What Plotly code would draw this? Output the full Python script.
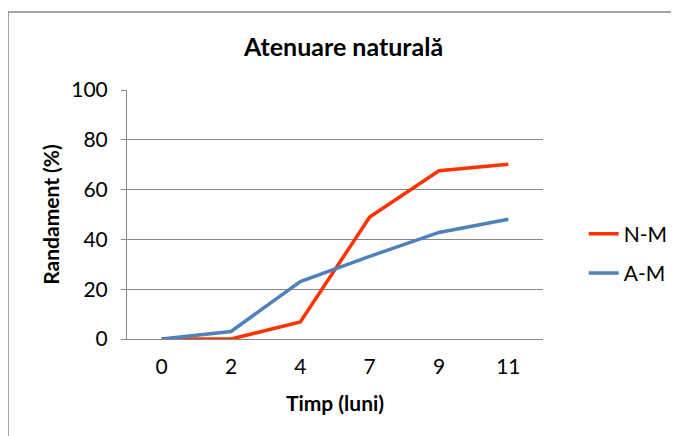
import plotly.graph_objects as go

# Date
timp = ["0", "2", "4", "7", "9", "11"]
nm_values = [0, 0, 6.8, 49, 67.6, 70.2]
am_values = [0, 3, 23.1, 33.2, 42.8, 48.1]

fig = go.Figure()
fig.add_trace(go.Scatter(x=timp, y=nm_values, name="N-M", mode="lines", legendgroup="nm",
                         line=dict(color="#FF3300", width=3.5)))
fig.add_trace(go.Scatter(x=timp, y=am_values, name="A-M", mode="lines", legendgroup="am",
                         line=dict(color="#4F81BD", width=3.5)))

font_family = "Lato, Open Sans, sans-serif"

# pagina are o margine de 8px in jurul figurii
fig.update_layout(
    width=671, height=428,
    margin=dict(l=119, r=136, t=82, b=97),
    paper_bgcolor="white", plot_bgcolor="white",
    font=dict(family=font_family, size=21, color="black"),
    title=dict(text="<b>Atenuare naturală</b>", x=0.5, xanchor="center",
               y=0.909, yanchor="middle", font=dict(size=25)),
    showlegend=True,
    legend=dict(xref="container", yref="paper", x=0.858, y=0.343,
                xanchor="left", yanchor="middle",
                font=dict(size=21), tracegroupgap=9,
                bgcolor="rgba(0,0,0,0)"),
)

fig.update_xaxes(
    type="category", range=[-0.5, 5.5], showgrid=False,
    showline=True, linecolor="#868686", linewidth=1,
    ticks="", tickfont=dict(size=21), ticklabelstandoff=9,
    title=dict(text="<b>Timp (luni)</b>", font=dict(size=21), standoff=19),
)
fig.update_yaxes(
    range=[0, 100], dtick=20, showgrid=True, gridcolor="#868686", gridwidth=1,
    showline=True, linecolor="#868686", linewidth=1,
    ticks="outside", ticklen=5, tickcolor="#868686", tickfont=dict(size=21),
    ticklabelstandoff=9, zeroline=False,
    title=dict(text="<b>Randament (%)</b>", font=dict(size=21), standoff=5),
)

# Chenarul graficului
fig.add_shape(type="rect", xref="paper", yref="paper",
              x0=(8 - 127) / 416, x1=(700 - 127) / 416,
              y0=(339 - 460) / 249, y1=(339 - 12) / 249,
              line=dict(color="#868686", width=1.5), layer="below")

fig.write_html("out.html")
